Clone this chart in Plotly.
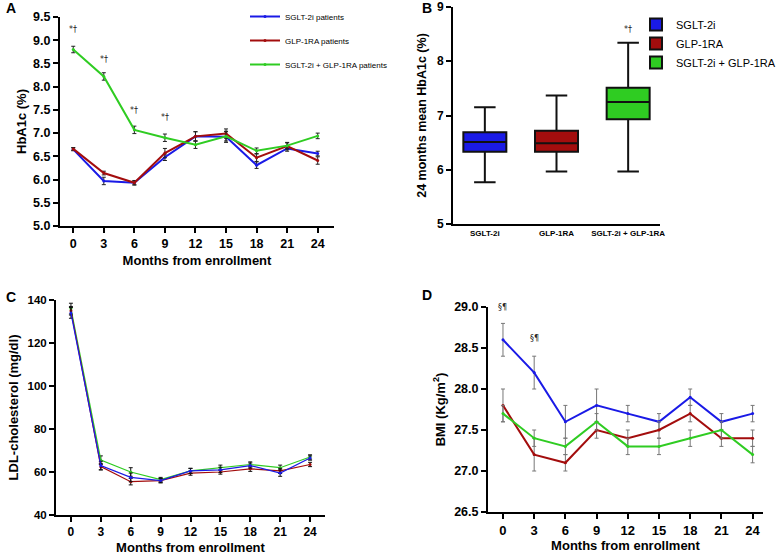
import plotly.graph_objects as go

# Months of follow-up (shared by panels A, C, D)
months = [0, 3, 6, 9, 12, 15, 18, 21, 24]

# Panel A - HbA1c (%)
hba1c_sglt = [6.65, 5.97, 5.93, 6.48, 6.93, 6.92, 6.31, 6.67, 6.56]
hba1c_sglt_err = [0.03, 0.08, 0.05, 0.07, 0.10, 0.12, 0.07, 0.06, 0.05]
hba1c_glp = [6.66, 6.14, 5.93, 6.57, 6.93, 6.99, 6.47, 6.72, 6.41]
hba1c_glp_err = [0.03, 0.04, 0.04, 0.10, 0.10, 0.10, 0.08, 0.08, 0.08]
hba1c_combo = [8.80, 8.22, 7.07, 6.90, 6.75, 6.93, 6.62, 6.73, 6.94]
hba1c_combo_err = [0.07, 0.08, 0.08, 0.08, 0.08, 0.10, 0.06, 0.06, 0.06]
hba1c_sig_months = [0, 3, 6, 9]
hba1c_sig_y = [9.23, 8.58, 7.48, 7.33]

# Panel B - 24 months mean HbA1c box plot
groups = ["SGLT-2i", "GLP-1RA", "SGLT-2i + GLP-1RA"]
box_low = [5.77, 5.97, 5.97]
box_q1 = [6.33, 6.33, 6.93]
box_median = [6.51, 6.49, 7.25]
box_q3 = [6.69, 6.72, 7.51]
box_high = [7.15, 7.37, 8.34]

# Panel C - LDL-cholesterol (mg/dl)
ldl_sglt = [134, 63, 57.5, 56, 60.5, 61, 63, 59.5, 66.5]
ldl_sglt_err = [2.5, 2, 2, 1, 1.2, 1.2, 1.2, 1.5, 1]
ldl_glp = [135, 62.5, 55.5, 56, 59.5, 60, 61.5, 60.5, 63.5]
ldl_glp_err = [2, 1.5, 1.5, 1, 1, 1, 1.2, 1.2, 1]
ldl_combo = [136, 65.5, 60, 56.5, 60.5, 62, 63.5, 62, 67]
ldl_combo_err = [2.5, 2, 2, 1, 1.2, 1.2, 1.2, 1.2, 1]

# Panel D - BMI (Kg/m2)
bmi_sglt = [28.6, 28.2, 27.6, 27.8, 27.7, 27.6, 27.9, 27.6, 27.7]
bmi_sglt_err = [0.2, 0.2, 0.2, 0.2, 0.1, 0.1, 0.1, 0.1, 0.1]
bmi_glp = [27.8, 27.2, 27.1, 27.5, 27.4, 27.5, 27.7, 27.4, 27.4]
bmi_glp_err = [0.2, 0.2, 0.1, 0.1, 0.1, 0.1, 0.1, 0.1, 0.1]
bmi_combo = [27.7, 27.4, 27.3, 27.6, 27.3, 27.3, 27.4, 27.5, 27.2]
bmi_combo_err = [0.1, 0.1, 0.1, 0.1, 0.1, 0.1, 0.1, 0.1, 0.1]
bmi_sig_months = [0, 3]
bmi_sig_y = [29.0, 28.62]

BLUE = "#1a1ae6"
RED = "#a30d0d"
GREEN = "#2fcc22"
FONT = "Liberation Sans, Arial, sans-serif"
W, H = 784, 556


def px_x(p):
    return p / W


def px_y(p):
    return 1 - p / H


fig = go.Figure()


def add_lines(xa, ya, series, width, err_color, legend_names=None):
    for i, (vals, errs, color) in enumerate(series):
        fig.add_trace(go.Scatter(
            x=months, y=vals, xaxis=xa, yaxis=ya, mode="lines+markers",
            line=dict(color=color, width=width), marker=dict(size=3, color=color),
            error_y=dict(type="data", array=errs, color=err_color, thickness=1, width=2),
            name=legend_names[i] if legend_names else "",
            showlegend=legend_names is not None,
            legend="legend", legendgroup=str(i) if legend_names else None,
        ))


# Panel A
add_lines("x", "y", [(hba1c_sglt, hba1c_sglt_err, BLUE),
                     (hba1c_glp, hba1c_glp_err, RED),
                     (hba1c_combo, hba1c_combo_err, GREEN)], 2, "#222",
          ["SGLT-2i patients", "GLP-1RA patients", "SGLT-2i + GLP-1RA patients"])

# Panel B
box_colors = [BLUE, RED, GREEN]
for i, g in enumerate(groups):
    fig.add_trace(go.Box(
        x=[g], q1=[box_q1[i]], median=[box_median[i]], q3=[box_q3[i]],
        lowerfence=[box_low[i]], upperfence=[box_high[i]],
        xaxis="x2", yaxis="y2", name=g, fillcolor=box_colors[i],
        line=dict(color="#111", width=2), width=0.6, whiskerwidth=0.5,
        legend="legend2", hoverinfo="skip",
    ))

# Panel C
add_lines("x3", "y3", [(ldl_combo, ldl_combo_err, GREEN),
                       (ldl_glp, ldl_glp_err, RED),
                       (ldl_sglt, ldl_sglt_err, BLUE)], 1.2, "#111")

# Panel D
add_lines("x4", "y4", [(bmi_sglt, bmi_sglt_err, BLUE),
                       (bmi_glp, bmi_glp_err, RED),
                       (bmi_combo, bmi_combo_err, GREEN)], 2, "#777")


def tfont(size):
    return dict(family=FONT, size=size, color="black", weight="bold")


axis_common = dict(showline=True, linecolor="black", linewidth=2, ticks="outside",
                   ticklen=5, tickwidth=2, tickcolor="black", showgrid=False,
                   zeroline=False, automargin=False, tickfont=tfont(12.5))

fig.update_layout(
    width=W, height=H, margin=dict(l=0, r=0, t=0, b=0),
    plot_bgcolor="white", paper_bgcolor="white",
    xaxis=dict(axis_common, domain=[px_x(60), px_x(334)], range=[-1.3, 25.6],
               tickvals=months, anchor="y",
               title=dict(text="Months from enrollment", font=tfont(13), standoff=6)),
    yaxis=dict(axis_common, domain=[px_y(226), px_y(17)], range=[5, 9.5], dtick=0.5,
               tickformat=".1f", anchor="x",
               title=dict(text="HbA1c (%)", font=tfont(13), standoff=4)),
    xaxis2=dict(axis_common, domain=[px_x(453), px_x(660)], anchor="y2",
                tickfont=tfont(8), ticks=""),
    yaxis2=dict(axis_common, domain=[px_y(224), px_y(7)], range=[5, 9], dtick=1, anchor="x2",
                tickfont=tfont(12),
                title=dict(text="24 months mean HbA1c (%)", font=tfont(12.5), standoff=8)),
    xaxis3=dict(axis_common, domain=[px_x(56), px_x(325)], range=[-1.5, 25.5],
                tickvals=months, anchor="y3", tickfont=tfont(12),
                title=dict(text="Months from enrollment", font=tfont(13), standoff=4)),
    yaxis3=dict(axis_common, domain=[px_y(515), px_y(300)], range=[40, 140], dtick=20,
                anchor="x3", tickfont=tfont(11.5),
                title=dict(text="LDL-cholesterol (mg/dl)", font=tfont(13), standoff=6)),
    xaxis4=dict(axis_common, domain=[px_x(488), px_x(763)], range=[-1.44, 25.0],
                tickvals=months, anchor="y4", tickfont=tfont(13),
                title=dict(text="Months from enrollment", font=tfont(13), standoff=4)),
    yaxis4=dict(axis_common, domain=[px_y(512), px_y(307)], range=[26.5, 29.0], dtick=0.5,
                tickformat=".1f", anchor="x4", tickfont=tfont(12.5),
                title=dict(text="BMI (Kg/m<sup>2</sup>)", font=tfont(13), standoff=6)),
    legend=dict(x=px_x(245), y=px_y(2), xanchor="left", yanchor="top",
                font=dict(family=FONT, size=8, color="black"), tracegroupgap=5,
                bgcolor="rgba(0,0,0,0)", itemwidth=30),
    legend2=dict(x=px_x(636), y=px_y(10), xanchor="left", yanchor="top",
                 font=dict(family=FONT, size=11, color="black"), tracegroupgap=0,
                 bgcolor="rgba(0,0,0,0)"),
)

ann_font = dict(family="DejaVu Sans, sans-serif", size=8, color="#222")
for m, yv in zip(hba1c_sig_months, hba1c_sig_y):
    fig.add_annotation(x=m, y=yv, xref="x", yref="y", text="*†", showarrow=False, font=ann_font)
fig.add_annotation(x=groups[2], y=8.58, xref="x2", yref="y2", text="*†", showarrow=False, font=ann_font)
for m, yv in zip(bmi_sig_months, bmi_sig_y):
    fig.add_annotation(x=m, y=yv, xref="x4", yref="y4", text="§¶", showarrow=False, font=ann_font)

for letter, lx, ly in [("A", 4, 8), ("B", 420, 8), ("C", 4, 297), ("D", 420, 295)]:
    fig.add_annotation(x=px_x(lx), y=px_y(ly), xref="paper", yref="paper", text=letter,
                       showarrow=False, xanchor="left", yanchor="middle", font=tfont(14))

# The page body has a default 8px margin; drop it so the figure fills the window.
fig.write_html("out.html", config={"displayModeBar": False},
               post_script="document.body.style.margin = '0';")
